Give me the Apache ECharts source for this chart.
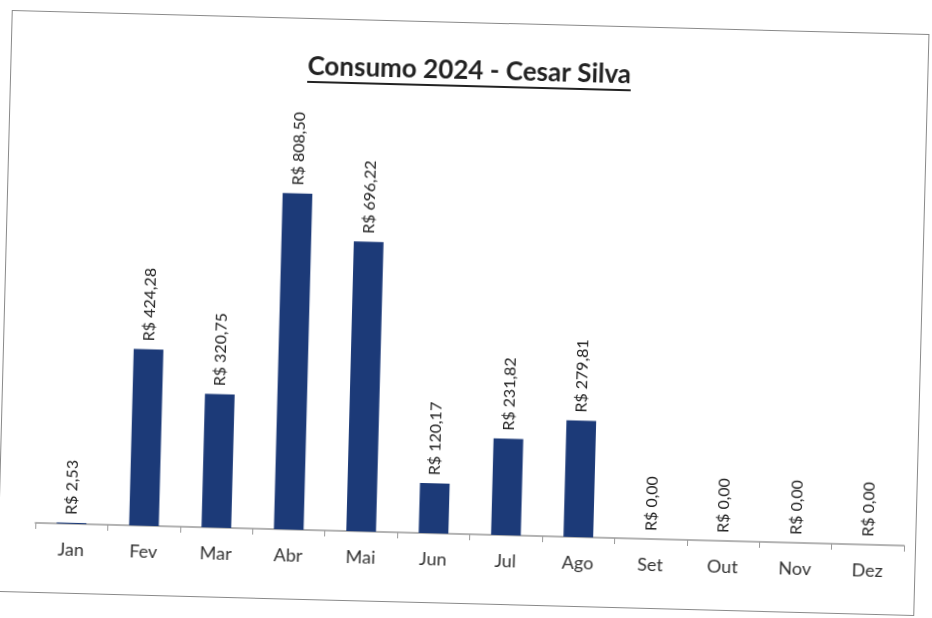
<!DOCTYPE html>
<html>
<head>
<meta charset="utf-8">
<script src="https://cdn.jsdelivr.net/npm/echarts@6/dist/echarts.min.js"></script>
<style>
  html, body { margin: 0; padding: 0; background: #fff; width: 932px; height: 618px; overflow: hidden; }
  #frame {
    position: absolute; left: 4px; top: 22px; width: 918px; height: 582px;
    border: 1.5px solid #8a8a8a; box-sizing: border-box;
    transform: rotate(1.5deg);
  }
  #chart { width: 100%; height: 100%; }
</style>
</head>
<body>
<div id="frame"><div id="chart"></div></div>
<script>
// meses e valores (R$)
const meses = ['Jan', 'Fev', 'Mar', 'Abr', 'Mai', 'Jun', 'Jul', 'Ago', 'Set', 'Out', 'Nov', 'Dez'];
const valores = [2.53, 424.28, 320.75, 808.50, 696.22, 120.17, 231.82, 279.81, 0, 0, 0, 0];
const titulo = 'Consumo 2024 - Cesar Silva';

function fmtReal(v) {
  return 'R$ ' + v.toFixed(2).replace('.', ',');
}

let chart = echarts.init(document.getElementById('chart'), null, { renderer: 'canvas' });

// largura do título para o sublinhado
let ctx = document.createElement('canvas').getContext('2d');
ctx.font = 'bold 26px Lato';
let tw = ctx.measureText(titulo).width;
let w = chart.getWidth();

let option = {
  animation: false,
  title: {
    text: titulo,
    left: 'center',
    top: 30,
    textStyle: { fontFamily: 'Lato', fontSize: 26, fontWeight: 'bold', color: '#222' }
  },
  graphic: [{
    type: 'line',
    shape: { x1: (w - tw) / 2, y1: 63, x2: (w + tw) / 2, y2: 63 },
    style: { stroke: '#222', lineWidth: 2 }
  }],
  grid: { left: 36, right: 11, top: 95, bottom: 69 },
  xAxis: {
    type: 'category',
    data: meses,
    axisLine: { lineStyle: { color: '#9a9a9a', width: 1.5 } },
    axisTick: { show: true, length: 6, lineStyle: { color: '#9a9a9a' } },
    axisLabel: { fontFamily: 'Lato', fontSize: 18, color: '#333', margin: 17 }
  },
  yAxis: {
    type: 'value',
    min: 0,
    max: 1000,
    show: false,
    splitLine: { show: false }
  },
  series: [{
    type: 'bar',
    data: valores,
    barWidth: '41%',
    itemStyle: { color: '#1c3a78' },
    label: {
      show: true,
      position: 'top',
      rotate: 90,
      align: 'left',
      verticalAlign: 'middle',
      distance: 8,
      fontFamily: 'Lato',
      fontSize: 16,
      color: '#222',
      formatter: (p) => fmtReal(p.value)
    }
  }]
};
chart.setOption(option);
</script>
</body>
</html>
